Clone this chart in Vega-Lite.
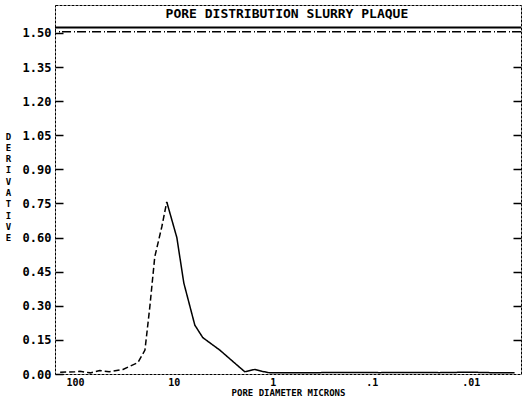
{
  "$schema": "https://vega.github.io/schema/vega-lite/v6.json",
  "width": 466,
  "height": 369,
  "autosize": "none",
  "padding": {"left": 55, "top": 5, "right": 7, "bottom": 32},
  "background": "white",
  "resolve": {"axis": {"y": "independent"}},
  "config": {
    "view": {"stroke": "#000", "strokeWidth": 1, "strokeDash": [3, 1]},
    "axis": {
      "grid": false,
      "labelFont": "DejaVu Sans Mono",
      "labelFontWeight": "bold",
      "labelFontSize": 12,
      "labelColor": "#000",
      "labelOverlap": false,
      "titleFont": "DejaVu Sans Mono",
      "titleFontWeight": "bold",
      "titleFontSize": 10,
      "titleColor": "#000",
      "tickColor": "#000",
      "domainColor": "#000"
    }
  },
  "datasets": {
    "curve": [
      {"d": 141, "v": 0.008, "seg": "rise"},
      {"d": 100, "v": 0.01, "seg": "rise"},
      {"d": 89, "v": 0.012, "seg": "rise"},
      {"d": 70, "v": 0.005, "seg": "rise"},
      {"d": 56, "v": 0.015, "seg": "rise"},
      {"d": 45, "v": 0.01, "seg": "rise"},
      {"d": 32.7, "v": 0.02, "seg": "rise"},
      {"d": 23.1, "v": 0.05, "seg": "rise"},
      {"d": 19.6, "v": 0.105, "seg": "rise"},
      {"d": 17.5, "v": 0.295, "seg": "rise"},
      {"d": 15.6, "v": 0.515, "seg": "rise"},
      {"d": 13.2, "v": 0.65, "seg": "rise"},
      {"d": 11.8, "v": 0.757, "seg": "rise"},
      {"d": 11.8, "v": 0.757, "seg": "fall"},
      {"d": 9.33, "v": 0.6, "seg": "fall"},
      {"d": 7.93, "v": 0.4, "seg": "fall"},
      {"d": 6.14, "v": 0.215, "seg": "fall"},
      {"d": 5.1, "v": 0.16, "seg": "fall"},
      {"d": 3.43, "v": 0.105, "seg": "fall"},
      {"d": 2.31, "v": 0.04, "seg": "fall"},
      {"d": 1.92, "v": 0.01, "seg": "fall"},
      {"d": 1.52, "v": 0.02, "seg": "fall"},
      {"d": 1.29, "v": 0.012, "seg": "fall"},
      {"d": 1.07, "v": 0.005, "seg": "fall"},
      {"d": 0.67, "v": 0.005, "seg": "fall"},
      {"d": 0.335, "v": 0.006, "seg": "fall"},
      {"d": 0.167, "v": 0.007, "seg": "fall"},
      {"d": 0.083, "v": 0.006, "seg": "fall"},
      {"d": 0.041, "v": 0.007, "seg": "fall"},
      {"d": 0.0206, "v": 0.006, "seg": "fall"},
      {"d": 0.0103, "v": 0.008, "seg": "fall"},
      {"d": 0.0051, "v": 0.005, "seg": "fall"},
      {"d": 0.0036, "v": 0.006, "seg": "fall"}
    ],
    "bands": [
      {"lvl": 1.524, "kind": "solid"},
      {"lvl": 1.505, "kind": "ticked"}
    ],
    "heading": [
      {"d": 0.72, "v": 1.584, "t": "PORE DISTRIBUTION  SLURRY PLAQUE"}
    ]
  },
  "layer": [
    {
      "data": {"name": "curve"},
      "mark": {"type": "line", "color": "#000", "strokeWidth": 1.5},
      "encoding": {
        "x": {
          "field": "d", "type": "quantitative",
          "scale": {"type": "log", "domain": [0.0031, 159], "reverse": true, "nice": false},
          "axis": {
            "values": [100, 10, 1, 0.1, 0.01],
            "labelExpr": "datum.value >= 1 ? format(datum.value, 'd') : (datum.value > 0.05 ? '.1' : '.01')",
            "ticks": false,
            "domain": false,
            "labelFontSize": 10,
            "labelPadding": 3,
            "title": "PORE DIAMETER MICRONS",
            "titleFontSize": 9,
            "titlePadding": 1
          }
        },
        "y": {
          "field": "v", "type": "quantitative",
          "scale": {"domain": [0, 1.623], "nice": false, "zero": false},
          "axis": {
            "orient": "left",
            "values": [0, 0.15, 0.3, 0.45, 0.6, 0.75, 0.9, 1.05, 1.2, 1.35, 1.5],
            "format": ".2f",
            "labelOverlap": false,
            "offset": -8,
            "tickSize": 8,
            "tickWidth": 1.5,
            "labelPadding": 4,
            "domain": false,
            "title": ["D", "E", "R", "I", "V", "A", "T", "I", "V", "E"],
            "titleAngle": 0,
            "titleX": -55,
            "titleY": 127,
            "titleAlign": "center",
            "titleBaseline": "top",
            "titleLineHeight": 11.3,
            "titleFontSize": 9
          }
        },
        "strokeDash": {
          "field": "seg", "type": "nominal",
          "scale": {"domain": ["rise", "fall"], "range": [[6, 3], [1, 0]]},
          "legend": null
        }
      }
    },
    {
      "data": {"name": "bands"},
      "transform": [{"filter": "datum.kind == 'solid'"}],
      "mark": {"type": "rule", "color": "#000", "strokeWidth": 2},
      "encoding": {
        "y": {
          "field": "lvl", "type": "quantitative",
          "axis": {"orient": "left", "labels": false, "ticks": false, "domain": false, "title": null}
        }
      }
    },
    {
      "data": {"name": "bands"},
      "transform": [{"filter": "datum.kind == 'ticked'"}],
      "mark": {"type": "rule", "color": "#000", "strokeWidth": 1.5, "strokeDash": [9, 2, 1, 3]},
      "encoding": {
        "y": {
          "field": "lvl", "type": "quantitative",
          "axis": {
            "orient": "right",
            "values": [0.15, 0.3, 0.45, 0.6, 0.75, 0.9, 1.05, 1.2, 1.35],
            "labels": false,
            "offset": -8,
            "tickSize": 8,
            "tickWidth": 1.5,
            "domain": false,
            "title": null
          }
        }
      }
    },
    {
      "data": {"name": "heading"},
      "mark": {"type": "text", "font": "DejaVu Sans Mono", "fontWeight": "bold", "fontSize": 13, "color": "#000", "align": "center", "baseline": "middle"},
      "encoding": {
        "x": {"field": "d", "type": "quantitative"},
        "y": {
          "field": "v", "type": "quantitative",
          "axis": {"orient": "left", "labels": false, "ticks": false, "domain": false, "title": null}
        },
        "text": {"field": "t"}
      }
    }
  ]
}
